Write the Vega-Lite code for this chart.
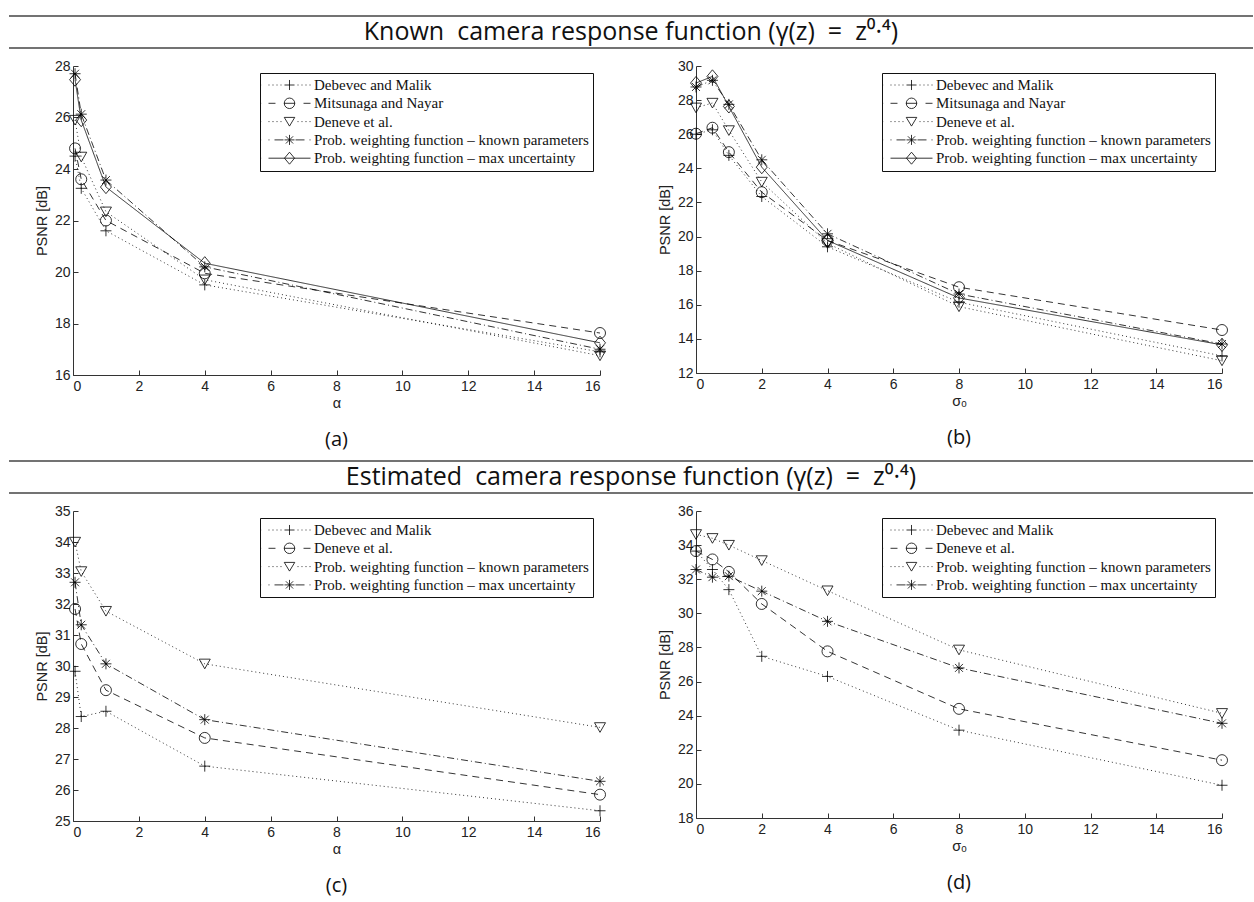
{
  "$schema": "https://vega.github.io/schema/vega-lite/v6.json",
  "background": "white",
  "padding": {"left": 8, "top": 15, "right": 0, "bottom": 6},
  "spacing": 10,
  "resolve": {"scale": {"strokeDash": "independent", "shape": "independent"}, "legend": {"strokeDash": "independent", "shape": "independent"}},
  "datasets": {
    "a": [
      {"x": 0.0625, "psnr": 24.5, "method": "Debevec and Malik"},
      {"x": 0.25, "psnr": 23.25, "method": "Debevec and Malik"},
      {"x": 1, "psnr": 21.6, "method": "Debevec and Malik"},
      {"x": 4, "psnr": 19.5, "method": "Debevec and Malik"},
      {"x": 16, "psnr": 16.9, "method": "Debevec and Malik"},
      {"x": 0.0625, "psnr": 24.8, "method": "Mitsunaga and Nayar"},
      {"x": 0.25, "psnr": 23.6, "method": "Mitsunaga and Nayar"},
      {"x": 1, "psnr": 22.0, "method": "Mitsunaga and Nayar"},
      {"x": 4, "psnr": 19.95, "method": "Mitsunaga and Nayar"},
      {"x": 16, "psnr": 17.63, "method": "Mitsunaga and Nayar"},
      {"x": 0.0625, "psnr": 25.9, "method": "Deneve et al."},
      {"x": 0.25, "psnr": 24.47, "method": "Deneve et al."},
      {"x": 1, "psnr": 22.34, "method": "Deneve et al."},
      {"x": 4, "psnr": 19.7, "method": "Deneve et al."},
      {"x": 16, "psnr": 16.75, "method": "Deneve et al."},
      {"x": 0.0625, "psnr": 27.7, "method": "Prob. weighting function – known parameters"},
      {"x": 0.25, "psnr": 26.13, "method": "Prob. weighting function – known parameters"},
      {"x": 1, "psnr": 23.57, "method": "Prob. weighting function – known parameters"},
      {"x": 4, "psnr": 20.2, "method": "Prob. weighting function – known parameters"},
      {"x": 16, "psnr": 17.0, "method": "Prob. weighting function – known parameters"},
      {"x": 0.0625, "psnr": 27.47, "method": "Prob. weighting function – max uncertainty"},
      {"x": 0.25, "psnr": 25.9, "method": "Prob. weighting function – max uncertainty"},
      {"x": 1, "psnr": 23.3, "method": "Prob. weighting function – max uncertainty"},
      {"x": 4, "psnr": 20.34, "method": "Prob. weighting function – max uncertainty"},
      {"x": 16, "psnr": 17.25, "method": "Prob. weighting function – max uncertainty"}
    ],
    "b": [
      {"x": 0, "psnr": 26.0, "method": "Debevec and Malik"},
      {"x": 0.5, "psnr": 26.26, "method": "Debevec and Malik"},
      {"x": 1, "psnr": 24.76, "method": "Debevec and Malik"},
      {"x": 2, "psnr": 22.35, "method": "Debevec and Malik"},
      {"x": 4, "psnr": 19.4, "method": "Debevec and Malik"},
      {"x": 8, "psnr": 16.15, "method": "Debevec and Malik"},
      {"x": 16, "psnr": 13.0, "method": "Debevec and Malik"},
      {"x": 0, "psnr": 26.03, "method": "Mitsunaga and Nayar"},
      {"x": 0.5, "psnr": 26.38, "method": "Mitsunaga and Nayar"},
      {"x": 1, "psnr": 24.95, "method": "Mitsunaga and Nayar"},
      {"x": 2, "psnr": 22.6, "method": "Mitsunaga and Nayar"},
      {"x": 4, "psnr": 19.77, "method": "Mitsunaga and Nayar"},
      {"x": 8, "psnr": 17.03, "method": "Mitsunaga and Nayar"},
      {"x": 16, "psnr": 14.52, "method": "Mitsunaga and Nayar"},
      {"x": 0, "psnr": 27.55, "method": "Deneve et al."},
      {"x": 0.5, "psnr": 27.83, "method": "Deneve et al."},
      {"x": 1, "psnr": 26.22, "method": "Deneve et al."},
      {"x": 2, "psnr": 23.2, "method": "Deneve et al."},
      {"x": 4, "psnr": 19.6, "method": "Deneve et al."},
      {"x": 8, "psnr": 15.89, "method": "Deneve et al."},
      {"x": 16, "psnr": 12.72, "method": "Deneve et al."},
      {"x": 0, "psnr": 28.77, "method": "Prob. weighting function – known parameters"},
      {"x": 0.5, "psnr": 29.16, "method": "Prob. weighting function – known parameters"},
      {"x": 1, "psnr": 27.75, "method": "Prob. weighting function – known parameters"},
      {"x": 2, "psnr": 24.5, "method": "Prob. weighting function – known parameters"},
      {"x": 4, "psnr": 20.16, "method": "Prob. weighting function – known parameters"},
      {"x": 8, "psnr": 16.63, "method": "Prob. weighting function – known parameters"},
      {"x": 16, "psnr": 13.7, "method": "Prob. weighting function – known parameters"},
      {"x": 0, "psnr": 29.0, "method": "Prob. weighting function – max uncertainty"},
      {"x": 0.5, "psnr": 29.39, "method": "Prob. weighting function – max uncertainty"},
      {"x": 1, "psnr": 27.63, "method": "Prob. weighting function – max uncertainty"},
      {"x": 2, "psnr": 24.07, "method": "Prob. weighting function – max uncertainty"},
      {"x": 4, "psnr": 19.77, "method": "Prob. weighting function – max uncertainty"},
      {"x": 8, "psnr": 16.4, "method": "Prob. weighting function – max uncertainty"},
      {"x": 16, "psnr": 13.65, "method": "Prob. weighting function – max uncertainty"}
    ],
    "c": [
      {"x": 0.0625, "psnr": 29.83, "method": "Debevec and Malik"},
      {"x": 0.25, "psnr": 28.37, "method": "Debevec and Malik"},
      {"x": 1, "psnr": 28.54, "method": "Debevec and Malik"},
      {"x": 4, "psnr": 26.77, "method": "Debevec and Malik"},
      {"x": 16, "psnr": 25.33, "method": "Debevec and Malik"},
      {"x": 0.0625, "psnr": 31.84, "method": "Deneve et al."},
      {"x": 0.25, "psnr": 30.71, "method": "Deneve et al."},
      {"x": 1, "psnr": 29.22, "method": "Deneve et al."},
      {"x": 4, "psnr": 27.68, "method": "Deneve et al."},
      {"x": 16, "psnr": 25.85, "method": "Deneve et al."},
      {"x": 0.0625, "psnr": 34.0, "method": "Prob. weighting function – known parameters"},
      {"x": 0.25, "psnr": 33.05, "method": "Prob. weighting function – known parameters"},
      {"x": 1, "psnr": 31.77, "method": "Prob. weighting function – known parameters"},
      {"x": 4, "psnr": 30.07, "method": "Prob. weighting function – known parameters"},
      {"x": 16, "psnr": 28.02, "method": "Prob. weighting function – known parameters"},
      {"x": 0.0625, "psnr": 32.7, "method": "Prob. weighting function – max uncertainty"},
      {"x": 0.25, "psnr": 31.33, "method": "Prob. weighting function – max uncertainty"},
      {"x": 1, "psnr": 30.07, "method": "Prob. weighting function – max uncertainty"},
      {"x": 4, "psnr": 28.27, "method": "Prob. weighting function – max uncertainty"},
      {"x": 16, "psnr": 26.28, "method": "Prob. weighting function – max uncertainty"}
    ],
    "d": [
      {"x": 0, "psnr": 33.65, "method": "Debevec and Malik"},
      {"x": 0.5, "psnr": 32.57, "method": "Debevec and Malik"},
      {"x": 1, "psnr": 31.39, "method": "Debevec and Malik"},
      {"x": 2, "psnr": 27.48, "method": "Debevec and Malik"},
      {"x": 4, "psnr": 26.3, "method": "Debevec and Malik"},
      {"x": 8, "psnr": 23.15, "method": "Debevec and Malik"},
      {"x": 16, "psnr": 19.92, "method": "Debevec and Malik"},
      {"x": 0, "psnr": 33.65, "method": "Deneve et al."},
      {"x": 0.5, "psnr": 33.16, "method": "Deneve et al."},
      {"x": 1, "psnr": 32.43, "method": "Deneve et al."},
      {"x": 2, "psnr": 30.55, "method": "Deneve et al."},
      {"x": 4, "psnr": 27.77, "method": "Deneve et al."},
      {"x": 8, "psnr": 24.4, "method": "Deneve et al."},
      {"x": 16, "psnr": 21.39, "method": "Deneve et al."},
      {"x": 0, "psnr": 34.63, "method": "Prob. weighting function – known parameters"},
      {"x": 0.5, "psnr": 34.4, "method": "Prob. weighting function – known parameters"},
      {"x": 1, "psnr": 34.0, "method": "Prob. weighting function – known parameters"},
      {"x": 2, "psnr": 33.1, "method": "Prob. weighting function – known parameters"},
      {"x": 4, "psnr": 31.33, "method": "Prob. weighting function – known parameters"},
      {"x": 8, "psnr": 27.86, "method": "Prob. weighting function – known parameters"},
      {"x": 16, "psnr": 24.14, "method": "Prob. weighting function – known parameters"},
      {"x": 0, "psnr": 32.57, "method": "Prob. weighting function – max uncertainty"},
      {"x": 0.5, "psnr": 32.12, "method": "Prob. weighting function – max uncertainty"},
      {"x": 1, "psnr": 32.18, "method": "Prob. weighting function – max uncertainty"},
      {"x": 2, "psnr": 31.3, "method": "Prob. weighting function – max uncertainty"},
      {"x": 4, "psnr": 29.53, "method": "Prob. weighting function – max uncertainty"},
      {"x": 8, "psnr": 26.8, "method": "Prob. weighting function – max uncertainty"},
      {"x": 16, "psnr": 23.55, "method": "Prob. weighting function – max uncertainty"}
    ]
  },
  "vconcat": [
    {
      "width": 1180, "height": 32,
      "data": {"values": [{"t": "Known\u00a0 camera response function (γ(z)\u00a0\u00a0=\u00a0\u00a0z⁰·⁴)"}]},
      "layer": [
        {"mark": {"type": "rule", "color": "#444", "strokeWidth": 1.5}, "encoding": {"y": {"datum": 1, "type": "quantitative", "scale": {"domain": [0, 1]}, "axis": null}, "x": {"datum": 0, "type": "quantitative", "scale": {"domain": [64, 1244], "nice": false, "zero": false}, "axis": null}, "x2": {"datum": 1244}}},
        {"mark": {"type": "rule", "color": "#444", "strokeWidth": 1.5}, "encoding": {"y": {"datum": 0, "type": "quantitative", "scale": {"domain": [0, 1]}, "axis": null}, "x": {"datum": 0, "type": "quantitative", "scale": {"domain": [64, 1244], "nice": false, "zero": false}, "axis": null}, "x2": {"datum": 1244}}},
        {"mark": {"type": "text", "font": "Open Sans", "fontSize": 25, "color": "#111", "baseline": "middle", "align": "center"}, "encoding": {"x": {"datum": 622, "type": "quantitative", "scale": {"domain": [64, 1244], "nice": false, "zero": false}, "axis": null}, "text": {"field": "t", "type": "nominal"}}}
      ]
    },
    {
      "hconcat": [
        {
          "width": 527, "height": 309,
          "title": {"text": "(a)", "orient": "bottom", "anchor": "middle", "frame": "group", "font": "Open Sans", "fontSize": 20, "fontWeight": "normal", "color": "#111", "offset": 20},
          "data": {"name": "a"},
          "encoding": {
            "x": {"field": "x", "type": "quantitative", "scale": {"domain": [0, 16], "nice": false}, "axis": {"title": "α", "values": [0, 2, 4, 6, 8, 10, 12, 14, 16]}},
            "y": {"field": "psnr", "type": "quantitative", "scale": {"domain": [16, 28], "nice": false, "zero": false}, "axis": {"title": ["\u00a0", "PSNR [dB]"], "values": [16, 18, 20, 22, 24, 26, 28]}}
          },
          "layer": [
            {"mark": {"type": "line", "color": "black", "strokeWidth": 0.8}, "encoding": {"strokeDash": {"field": "method", "type": "nominal", "scale": {"domain": ["Debevec and Malik", "Mitsunaga and Nayar", "Deneve et al.", "Prob. weighting function – known parameters", "Prob. weighting function – max uncertainty"], "range": [[1, 3], [7, 5], [1, 3], [7, 3, 1, 3], [1, 0]]}, "legend": null}}},
            {"mark": {"type": "point", "filled": false, "color": "black", "strokeWidth": 0.8, "size": 121, "opacity": 1}, "encoding": {"shape": {"field": "method", "type": "nominal", "scale": {"domain": ["Debevec and Malik", "Mitsunaga and Nayar", "Deneve et al.", "Prob. weighting function – known parameters", "Prob. weighting function – max uncertainty"], "range": ["M-1,0L1,0M0,-1L0,1", "circle", "M-1,-0.85L1,-0.85L0,0.9Z", "M-1,0L1,0M0,-1L0,1M-0.72,-0.72L0.72,0.72M-0.72,0.72L0.72,-0.72", "M-1,0L0,-1.2L1,0L0,1.2Z"]}, "legend": null}}},
            {"transform": [{"filter": "false"}], "mark": {"type": "point", "filled": false, "color": "black", "strokeWidth": 0.8, "size": 225, "opacity": 1}, "encoding": {"shape": {"field": "method", "type": "nominal", "scale": {"domain": ["Debevec and Malik", "Mitsunaga and Nayar", "Deneve et al.", "Prob. weighting function – known parameters", "Prob. weighting function – max uncertainty"], "range": [
              "M-3.73,0L-3.71,0M-2.8,0L-2.67,0M-2.27,0L-2.13,0M-1.73,0L-1.6,0M-1.2,0L-1.07,0M1.07,0L1.2,0M1.6,0L1.73,0M2.13,0L2.27,0M2.67,0L2.8,0M-0.67,0L0.67,0M0,-0.67L0,0.67",
              "M-3.73,0L-3.71,0M-2.8,0L-1.87,0M-0.73,0L0.73,0M1.87,0L2.8,0M0.7,0A0.7,0.7,0,1,1,-0.7,0A0.7,0.7,0,1,1,0.7,0",
              "M-3.73,0L-3.71,0M-2.8,0L-2.67,0M-2.27,0L-2.13,0M-1.73,0L-1.6,0M-1.2,0L-1.07,0M1.07,0L1.2,0M1.6,0L1.73,0M2.13,0L2.27,0M2.67,0L2.8,0M-0.7,-0.56L0.7,-0.56L0,0.6Z",
              "M-3.73,0L-3.71,0M-2.8,0L-2.67,0M-2,0L-0.8,0M0.8,0L2,0M2.67,0L2.8,0M-0.67,0L0.67,0M0,-0.67L0,0.67M-0.48,-0.48L0.48,0.48M-0.48,0.48L0.48,-0.48",
              "M-3.73,0L-3.71,0M-2.8,0L2.8,0M-0.67,0L0,-0.8L0.67,0L0,0.8Z"
            ]}, "legend": {"title": null}}}}
          ],
          "resolve": {"scale": {"shape": "independent"}, "legend": {"shape": "independent"}}
        },
        {
          "width": 526, "height": 307,
          "title": {"text": "(b)", "orient": "bottom", "anchor": "middle", "frame": "group", "font": "Open Sans", "fontSize": 20, "fontWeight": "normal", "color": "#111", "offset": 20},
          "data": {"name": "b"},
          "encoding": {
            "x": {"field": "x", "type": "quantitative", "scale": {"domain": [0, 16], "nice": false}, "axis": {"title": "σₒ", "values": [0, 2, 4, 6, 8, 10, 12, 14, 16]}},
            "y": {"field": "psnr", "type": "quantitative", "scale": {"domain": [12, 30], "nice": false, "zero": false}, "axis": {"title": "PSNR [dB]", "values": [12, 14, 16, 18, 20, 22, 24, 26, 28, 30]}}
          },
          "layer": [
            {"mark": {"type": "line", "color": "black", "strokeWidth": 0.8}, "encoding": {"strokeDash": {"field": "method", "type": "nominal", "scale": {"domain": ["Debevec and Malik", "Mitsunaga and Nayar", "Deneve et al.", "Prob. weighting function – known parameters", "Prob. weighting function – max uncertainty"], "range": [[1, 3], [7, 5], [1, 3], [7, 3, 1, 3], [1, 0]]}, "legend": null}}},
            {"mark": {"type": "point", "filled": false, "color": "black", "strokeWidth": 0.8, "size": 121, "opacity": 1}, "encoding": {"shape": {"field": "method", "type": "nominal", "scale": {"domain": ["Debevec and Malik", "Mitsunaga and Nayar", "Deneve et al.", "Prob. weighting function – known parameters", "Prob. weighting function – max uncertainty"], "range": ["M-1,0L1,0M0,-1L0,1", "circle", "M-1,-0.85L1,-0.85L0,0.9Z", "M-1,0L1,0M0,-1L0,1M-0.72,-0.72L0.72,0.72M-0.72,0.72L0.72,-0.72", "M-1,0L0,-1.2L1,0L0,1.2Z"]}, "legend": null}}},
            {"transform": [{"filter": "false"}], "mark": {"type": "point", "filled": false, "color": "black", "strokeWidth": 0.8, "size": 225, "opacity": 1}, "encoding": {"shape": {"field": "method", "type": "nominal", "scale": {"domain": ["Debevec and Malik", "Mitsunaga and Nayar", "Deneve et al.", "Prob. weighting function – known parameters", "Prob. weighting function – max uncertainty"], "range": [
              "M-3.73,0L-3.71,0M-2.8,0L-2.67,0M-2.27,0L-2.13,0M-1.73,0L-1.6,0M-1.2,0L-1.07,0M1.07,0L1.2,0M1.6,0L1.73,0M2.13,0L2.27,0M2.67,0L2.8,0M-0.67,0L0.67,0M0,-0.67L0,0.67",
              "M-3.73,0L-3.71,0M-2.8,0L-1.87,0M-0.73,0L0.73,0M1.87,0L2.8,0M0.7,0A0.7,0.7,0,1,1,-0.7,0A0.7,0.7,0,1,1,0.7,0",
              "M-3.73,0L-3.71,0M-2.8,0L-2.67,0M-2.27,0L-2.13,0M-1.73,0L-1.6,0M-1.2,0L-1.07,0M1.07,0L1.2,0M1.6,0L1.73,0M2.13,0L2.27,0M2.67,0L2.8,0M-0.7,-0.56L0.7,-0.56L0,0.6Z",
              "M-3.73,0L-3.71,0M-2.8,0L-2.67,0M-2,0L-0.8,0M0.8,0L2,0M2.67,0L2.8,0M-0.67,0L0.67,0M0,-0.67L0,0.67M-0.48,-0.48L0.48,0.48M-0.48,0.48L0.48,-0.48",
              "M-3.73,0L-3.71,0M-2.8,0L2.8,0M-0.67,0L0,-0.8L0.67,0L0,0.8Z"
            ]}, "legend": {"title": null}}}}
          ],
          "resolve": {"scale": {"shape": "independent"}, "legend": {"shape": "independent"}}
        }
      ],
      "spacing": 96,
      "bounds": "flush",
      "resolve": {"scale": {"strokeDash": "independent", "shape": "independent"}, "legend": {"strokeDash": "independent", "shape": "independent"}}
    },
    {
      "width": 1180, "height": 32,
      "data": {"values": [{"t": "Estimated\u00a0 camera response function (γ(z)\u00a0\u00a0=\u00a0\u00a0z⁰·⁴)"}]},
      "layer": [
        {"mark": {"type": "rule", "color": "#444", "strokeWidth": 1.5}, "encoding": {"y": {"datum": 1, "type": "quantitative", "scale": {"domain": [0, 1]}, "axis": null}, "x": {"datum": 0, "type": "quantitative", "scale": {"domain": [64, 1244], "nice": false, "zero": false}, "axis": null}, "x2": {"datum": 1244}}},
        {"mark": {"type": "rule", "color": "#444", "strokeWidth": 1.5}, "encoding": {"y": {"datum": 0, "type": "quantitative", "scale": {"domain": [0, 1]}, "axis": null}, "x": {"datum": 0, "type": "quantitative", "scale": {"domain": [64, 1244], "nice": false, "zero": false}, "axis": null}, "x2": {"datum": 1244}}},
        {"mark": {"type": "text", "font": "Open Sans", "fontSize": 25, "color": "#111", "baseline": "middle", "align": "center"}, "encoding": {"x": {"datum": 622, "type": "quantitative", "scale": {"domain": [64, 1244], "nice": false, "zero": false}, "axis": null}, "text": {"field": "t", "type": "nominal"}}}
      ]
    },
    {
      "hconcat": [
        {
          "width": 527, "height": 310,
          "title": {"text": "(c)", "orient": "bottom", "anchor": "middle", "frame": "group", "font": "Open Sans", "fontSize": 20, "fontWeight": "normal", "color": "#111", "offset": 20},
          "data": {"name": "c"},
          "encoding": {
            "x": {"field": "x", "type": "quantitative", "scale": {"domain": [0, 16], "nice": false}, "axis": {"title": "α", "values": [0, 2, 4, 6, 8, 10, 12, 14, 16]}},
            "y": {"field": "psnr", "type": "quantitative", "scale": {"domain": [25, 35], "nice": false, "zero": false}, "axis": {"title": ["\u00a0", "PSNR [dB]"], "values": [25, 26, 27, 28, 29, 30, 31, 32, 33, 34, 35]}}
          },
          "layer": [
            {"mark": {"type": "line", "color": "black", "strokeWidth": 0.8}, "encoding": {"strokeDash": {"field": "method", "type": "nominal", "scale": {"domain": ["Debevec and Malik", "Deneve et al.", "Prob. weighting function – known parameters", "Prob. weighting function – max uncertainty"], "range": [[1, 3], [7, 5], [1, 3], [7, 3, 1, 3]]}, "legend": null}}},
            {"mark": {"type": "point", "filled": false, "color": "black", "strokeWidth": 0.8, "size": 121, "opacity": 1}, "encoding": {"shape": {"field": "method", "type": "nominal", "scale": {"domain": ["Debevec and Malik", "Deneve et al.", "Prob. weighting function – known parameters", "Prob. weighting function – max uncertainty"], "range": ["M-1,0L1,0M0,-1L0,1", "circle", "M-1,-0.85L1,-0.85L0,0.9Z", "M-1,0L1,0M0,-1L0,1M-0.72,-0.72L0.72,0.72M-0.72,0.72L0.72,-0.72"]}, "legend": null}}},
            {"transform": [{"filter": "false"}], "mark": {"type": "point", "filled": false, "color": "black", "strokeWidth": 0.8, "size": 225, "opacity": 1}, "encoding": {"shape": {"field": "method", "type": "nominal", "scale": {"domain": ["Debevec and Malik", "Deneve et al.", "Prob. weighting function – known parameters", "Prob. weighting function – max uncertainty"], "range": [
              "M-3.73,0L-3.71,0M-2.8,0L-2.67,0M-2.27,0L-2.13,0M-1.73,0L-1.6,0M-1.2,0L-1.07,0M1.07,0L1.2,0M1.6,0L1.73,0M2.13,0L2.27,0M2.67,0L2.8,0M-0.67,0L0.67,0M0,-0.67L0,0.67",
              "M-3.73,0L-3.71,0M-2.8,0L-1.87,0M-0.73,0L0.73,0M1.87,0L2.8,0M0.7,0A0.7,0.7,0,1,1,-0.7,0A0.7,0.7,0,1,1,0.7,0",
              "M-3.73,0L-3.71,0M-2.8,0L-2.67,0M-2.27,0L-2.13,0M-1.73,0L-1.6,0M-1.2,0L-1.07,0M1.07,0L1.2,0M1.6,0L1.73,0M2.13,0L2.27,0M2.67,0L2.8,0M-0.7,-0.56L0.7,-0.56L0,0.6Z",
              "M-3.73,0L-3.71,0M-2.8,0L-2.67,0M-2,0L-0.8,0M0.8,0L2,0M2.67,0L2.8,0M-0.67,0L0.67,0M0,-0.67L0,0.67M-0.48,-0.48L0.48,0.48M-0.48,0.48L0.48,-0.48"
            ]}, "legend": {"title": null}}}}
          ],
          "resolve": {"scale": {"shape": "independent"}, "legend": {"shape": "independent"}}
        },
        {
          "width": 526, "height": 307,
          "title": {"text": "(d)", "orient": "bottom", "anchor": "middle", "frame": "group", "font": "Open Sans", "fontSize": 20, "fontWeight": "normal", "color": "#111", "offset": 20},
          "data": {"name": "d"},
          "encoding": {
            "x": {"field": "x", "type": "quantitative", "scale": {"domain": [0, 16], "nice": false}, "axis": {"title": "σₒ", "values": [0, 2, 4, 6, 8, 10, 12, 14, 16]}},
            "y": {"field": "psnr", "type": "quantitative", "scale": {"domain": [18, 36], "nice": false, "zero": false}, "axis": {"title": "PSNR [dB]", "values": [18, 20, 22, 24, 26, 28, 30, 32, 34, 36]}}
          },
          "layer": [
            {"mark": {"type": "line", "color": "black", "strokeWidth": 0.8}, "encoding": {"strokeDash": {"field": "method", "type": "nominal", "scale": {"domain": ["Debevec and Malik", "Deneve et al.", "Prob. weighting function – known parameters", "Prob. weighting function – max uncertainty"], "range": [[1, 3], [7, 5], [1, 3], [7, 3, 1, 3]]}, "legend": null}}},
            {"mark": {"type": "point", "filled": false, "color": "black", "strokeWidth": 0.8, "size": 121, "opacity": 1}, "encoding": {"shape": {"field": "method", "type": "nominal", "scale": {"domain": ["Debevec and Malik", "Deneve et al.", "Prob. weighting function – known parameters", "Prob. weighting function – max uncertainty"], "range": ["M-1,0L1,0M0,-1L0,1", "circle", "M-1,-0.85L1,-0.85L0,0.9Z", "M-1,0L1,0M0,-1L0,1M-0.72,-0.72L0.72,0.72M-0.72,0.72L0.72,-0.72"]}, "legend": null}}},
            {"transform": [{"filter": "false"}], "mark": {"type": "point", "filled": false, "color": "black", "strokeWidth": 0.8, "size": 225, "opacity": 1}, "encoding": {"shape": {"field": "method", "type": "nominal", "scale": {"domain": ["Debevec and Malik", "Deneve et al.", "Prob. weighting function – known parameters", "Prob. weighting function – max uncertainty"], "range": [
              "M-3.73,0L-3.71,0M-2.8,0L-2.67,0M-2.27,0L-2.13,0M-1.73,0L-1.6,0M-1.2,0L-1.07,0M1.07,0L1.2,0M1.6,0L1.73,0M2.13,0L2.27,0M2.67,0L2.8,0M-0.67,0L0.67,0M0,-0.67L0,0.67",
              "M-3.73,0L-3.71,0M-2.8,0L-1.87,0M-0.73,0L0.73,0M1.87,0L2.8,0M0.7,0A0.7,0.7,0,1,1,-0.7,0A0.7,0.7,0,1,1,0.7,0",
              "M-3.73,0L-3.71,0M-2.8,0L-2.67,0M-2.27,0L-2.13,0M-1.73,0L-1.6,0M-1.2,0L-1.07,0M1.07,0L1.2,0M1.6,0L1.73,0M2.13,0L2.27,0M2.67,0L2.8,0M-0.7,-0.56L0.7,-0.56L0,0.6Z",
              "M-3.73,0L-3.71,0M-2.8,0L-2.67,0M-2,0L-0.8,0M0.8,0L2,0M2.67,0L2.8,0M-0.67,0L0.67,0M0,-0.67L0,0.67M-0.48,-0.48L0.48,0.48M-0.48,0.48L0.48,-0.48"
            ]}, "legend": {"title": null}}}}
          ],
          "resolve": {"scale": {"shape": "independent"}, "legend": {"shape": "independent"}}
        }
      ],
      "spacing": 96,
      "bounds": "flush",
      "resolve": {"scale": {"strokeDash": "independent", "shape": "independent"}, "legend": {"strokeDash": "independent", "shape": "independent"}}
    }
  ],
  "config": {
    "view": {"stroke": null},
    "axis": {
      "grid": false,
      "labelFont": "Liberation Sans", "labelFontSize": 14, "labelColor": "#222",
      "titleFont": "Liberation Sans", "titleFontSize": 14.5, "titleFontWeight": "normal", "titleColor": "#222",
      "domainColor": "#333", "domainWidth": 1, "tickColor": "#333", "tickWidth": 1, "tickSize": -5
    },
    "axisX": {"labelPadding": 9.5, "titlePadding": 3},
    "axisY": {"labelPadding": 8, "titlePadding": 4.5, "titleLineHeight": 18},
    "legend": {
      "orient": "top-right", "offset": 7,
      "labelFont": "Liberation Serif", "labelFontSize": 15, "labelColor": "#111", "labelLimit": 500,
      "strokeColor": "#111", "fillColor": "white", "padding": 4,
      "symbolSize": 225, "symbolStrokeWidth": 0.8, "symbolStrokeColor": "black", "symbolFillColor": "transparent",
      "symbolOffset": 17.5, "labelOffset": 16.5, "rowPadding": 2.3
    }
  }
}
